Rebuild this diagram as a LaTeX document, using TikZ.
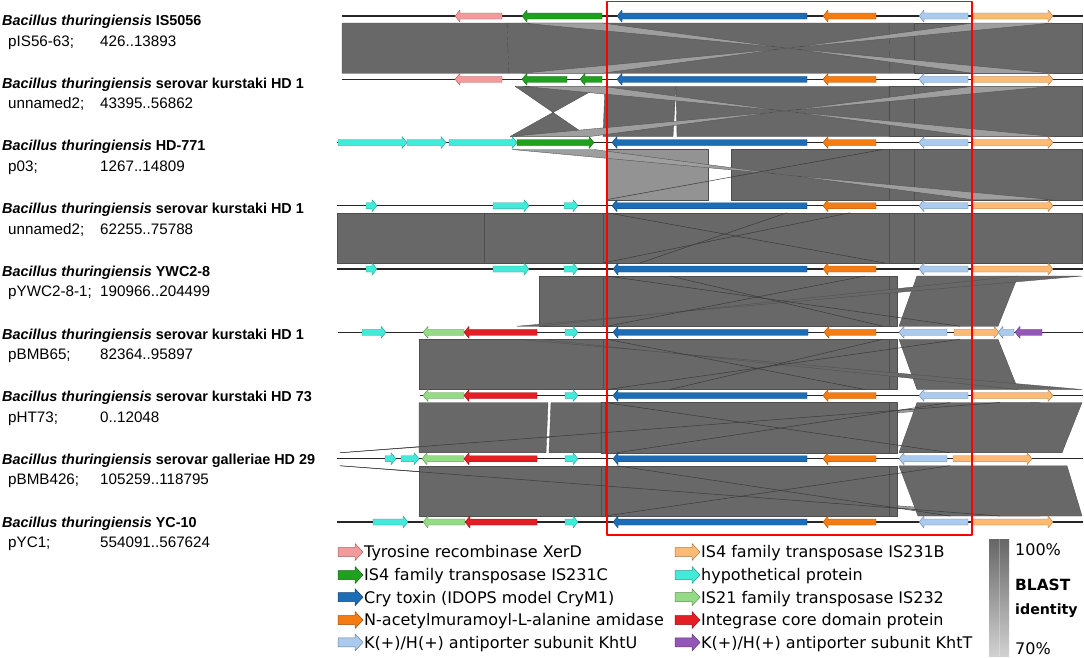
\documentclass[tikz,border=0pt]{standalone}
\usepackage{fontspec}
\setmainfont{DejaVu Sans}
\newfontfamily\labfont{Liberation Sans}
\definecolor{hitdark}{HTML}{686868}
\definecolor{hitlight}{HTML}{9E9E9E}
\definecolor{hitmid}{HTML}{939393}
\definecolor{hitedge}{HTML}{4E4E4E}
\definecolor{hitline}{HTML}{3A3A3A}
\definecolor{cPink}{HTML}{F59A9C}
\definecolor{cGreen}{HTML}{1FA01F}
\definecolor{cBlue}{HTML}{1C6CB6}
\definecolor{cOrange}{HTML}{F57C12}
\definecolor{cLBlue}{HTML}{AACAEE}
\definecolor{cLOrange}{HTML}{FDBA74}
\definecolor{cCyan}{HTML}{42EBD9}
\definecolor{cLGreen}{HTML}{95DB85}
\definecolor{cRed}{HTML}{E31E24}
\definecolor{cPurple}{HTML}{9457B8}
\def\ya{16}\def\yb{79.25}\def\yc{142.5}\def\yd{205.75}\def\ye{269}
\def\yf{332.25}\def\yg{395.5}\def\yh{458.75}\def\yi{522}
\newcommand\hit[5][hitd]{\path[#1] (#2,\bt) -- (#3,\bt) -- (#5,\bb) -- (#4,\bb) -- cycle;}
\newcommand\hl[2]{\draw[hline] (#1,\bt) -- (#2,\bb);}
\newcommand\gR[4]{\filldraw[gene, fill=#4, draw=#4!65!black] (#1,#3-3) -- (#2-5,#3-3) -- (#2-5,#3-6) -- (#2,#3) -- (#2-5,#3+6) -- (#2-5,#3+3) -- (#1,#3+3) -- cycle;}
\newcommand\gL[4]{\filldraw[gene, fill=#4, draw=#4!65!black] (#1,#3) -- (#1+5,#3-6) -- (#1+5,#3-3) -- (#2,#3-3) -- (#2,#3+3) -- (#1+5,#3+3) -- (#1+5,#3+6) -- cycle;}
\newcommand\rightset[1]{\gL{823}{876}{#1}{cOrange}\gL{919}{968}{#1}{cLBlue}\gR{973}{1053}{#1}{cLOrange}}
\newcommand\legar[3]{\filldraw[line width=0.5pt, fill=#3, draw=#3!65!black] (#1,#2-4.5) -- (#1+17,#2-4.5) -- (#1+17,#2-8.5) -- (#1+25,#2) -- (#1+17,#2+8.5) -- (#1+17,#2+4.5) -- (#1,#2+4.5) -- cycle;}
\newcommand\strain[5]{%
 \node[lbl] (t#1) at (2,#2) {\textbf{\textit{Bacillus thuringiensis}} \textbf{#3}};
 \node[sub] (n#1) at (8,#2+20.5) {#4};
 \node[sub] (c#1) at (100,#2+20.5) {#5};}
\begin{document}
\begin{tikzpicture}[x=1pt,y=-1pt,line join=round,
 hitd/.style={fill=hitdark, draw=hitedge, line width=0.35pt},
 hitl/.style={fill=hitlight, draw=hitedge, line width=0.35pt},
 hitm/.style={fill=hitmid, draw=hitedge, line width=0.35pt},
 hline/.style={draw=hitline, line width=0.5pt},
 track/.style={draw=black!85, line width=1.1pt},
 gene/.style={line width=0.4pt},
 lbl/.style={inner sep=0pt, anchor=base west, font=\labfont\fontsize{14.4}{16}\selectfont},
 sub/.style={inner sep=0pt, anchor=base west, font=\labfont\fontsize{15.2}{17}\selectfont},
 legtxt/.style={inner sep=0pt, anchor=base west, font=\fontsize{16}{18}\selectfont}]
\fill[white] (0,0) rectangle (1084,657);
\useasboundingbox (0,0) rectangle (1084,657);
% ---------- band 1-2
\def\bt{23}\def\bb{73.25}
\hit{342}{507}{342}{509}\hit{507}{889}{509}{890}\hit{889}{914}{890}{914}\hit{914}{1082}{914}{1082}
\hit[hitl]{522}{602}{1053}{973}\hit[hitl]{973}{1053}{602}{522}
% ---------- band 2-3
\def\bt{86.25}\def\bb{136.5}
\hit{515}{600}{588}{510}\hit{605}{676}{603}{673}\hit{676}{889}{677}{889}\hit{889}{914}{889}{914}\hit{914}{1082}{914}{1082}
\hit[hitl]{522}{602}{1053}{973}\hit[hitl]{973}{1053}{590}{510}
% ---------- band 3-4
\def\bt{149.5}\def\bb{199.75}
\hit[hitm]{606}{708}{606}{708}\hit{731}{889}{731}{889}\hit{889}{914}{889}{914}\hit{914}{1082}{914}{1082}
\hit[hitl]{512}{594}{1053}{973}
\hl{883}{606}
% ---------- band 4-5
\def\bt{212.75}\def\bb{263}
\hit{337}{484}{337}{484}\hit{484}{603}{484}{603}\hit{603}{607}{603}{607}\hit{607}{889}{607}{889}\hit{889}{914}{889}{914}\hit{914}{1082}{914}{1082}
\hl{607}{885}\hl{850}{603}\hl{787}{640}
% ---------- band 5-6
\def\bt{276}\def\bb{326.25}
\hit{539}{603}{539}{603}\hit{603}{607}{603}{607}\hit{607}{889}{607}{889}\hit{889}{897}{889}{897}\hit{917}{1018}{899}{998}
\hit{1018}{1082}{539}{517}
\hl{607}{960}\hl{865}{607}\hl{670}{883}
% ---------- band 6-7
\def\bt{339.25}\def\bb{389.5}
\hit{419}{603}{419}{603}\hit{603}{607}{603}{607}\hit{607}{889}{607}{889}\hit{889}{897}{889}{897}\hit{899}{998}{917}{1018}
\hit{517}{539}{1082}{1018}
\hl{960}{607}\hl{607}{865}\hl{883}{670}
% ---------- band 7-8
\def\bt{402.5}\def\bb{452.75}
\path[hitl] (340,\bb) -- (1000,\bt) -- (1040,\bt) -- cycle;
\hit{419}{548}{419}{546}\hit{551}{601}{549}{601}\hit{601}{605}{601}{605}\hit{605}{889}{605}{889}\hit{889}{897}{889}{897}\hit{917}{1082}{899}{1062}
\draw[hline] (340,\bb) -- (1000,\bt);
\hl{605}{950}\hl{950}{617}
% ---------- band 8-9
\def\bt{465.75}\def\bb{516}
\path[hitl] (340,\bt) -- (1000,\bb) -- (1040,\bb) -- cycle;
\hit{419}{601}{419}{601}\hit{601}{605}{601}{605}\hit{605}{889}{605}{889}\hit{889}{897}{889}{897}\hit{899}{1067}{918}{1082}
\draw[hline] (340,\bt) -- (1000,\bb);
\hl{950}{605}\hl{617}{950}
% ---------- tracks
\draw[track] (342,\ya) -- (1083,\ya);
\draw[track] (342,\yb) -- (1083,\yb);
\draw[track] (337,\yc) -- (1083,\yc);
\draw[track] (337,\yd) -- (1083,\yd);
\draw[track] (337,\ye) -- (1083,\ye);
\draw[track] (338,\yf) -- (1083,\yf);
\draw[track] (420,\yg) -- (1083,\yg);
\draw[track] (337,\yh) -- (1083,\yh);
\draw[track] (337,\yi) -- (1083,\yi);
% ---------- genes
\gL{455}{502}{\ya}{cPink}\gL{522}{602}{\ya}{cGreen}\gL{617}{807}{\ya}{cBlue}\rightset{\ya}
\gL{455}{502}{\yb}{cPink}\gL{522}{567}{\yb}{cGreen}\gL{580}{602}{\yb}{cGreen}\gL{617}{807}{\yb}{cBlue}\rightset{\yb}
\gR{338}{407}{\yc}{cCyan}\gR{407}{446}{\yc}{cCyan}\gR{449}{517}{\yc}{cCyan}\gR{517}{594}{\yc}{cGreen}\gL{612}{807}{\yc}{cBlue}\rightset{\yc}
\gR{366}{377}{\yd}{cCyan}\gR{493}{529}{\yd}{cCyan}\gR{564}{578}{\yd}{cCyan}\gL{612}{807}{\yd}{cBlue}\rightset{\yd}
\gR{366}{377}{\ye}{cCyan}\gR{493}{529}{\ye}{cCyan}\gR{564}{578}{\ye}{cCyan}\gL{613}{807}{\ye}{cBlue}\rightset{\ye}
\gR{362}{386}{\yf}{cCyan}\gL{423}{464}{\yf}{cLGreen}\gL{464}{537}{\yf}{cRed}\gR{565}{578}{\yf}{cCyan}\gL{613}{808}{\yf}{cBlue}
\gL{824}{876}{\yf}{cOrange}\gL{899}{947}{\yf}{cLBlue}\gR{954}{999}{\yf}{cLOrange}\gL{998}{1014}{\yf}{cLBlue}\gL{1015}{1042}{\yf}{cPurple}
\gL{423}{464}{\yg}{cLGreen}\gL{464}{537}{\yg}{cRed}\gR{565}{578}{\yg}{cCyan}\gL{613}{807}{\yg}{cBlue}\rightset{\yg}
\gR{385}{396}{\yh}{cCyan}\gR{401}{419}{\yh}{cCyan}\gL{422}{464}{\yh}{cLGreen}\gL{464}{537}{\yh}{cRed}\gR{565}{578}{\yh}{cCyan}\gL{613}{807}{\yh}{cBlue}
\gL{823}{876}{\yh}{cOrange}\gL{899}{947}{\yh}{cLBlue}\gR{953}{1032}{\yh}{cLOrange}
\gR{373}{408}{\yi}{cCyan}\gL{423}{465}{\yi}{cLGreen}\gL{465}{537}{\yi}{cRed}\gR{565}{578}{\yi}{cCyan}\gL{613}{807}{\yi}{cBlue}\rightset{\yi}
% ---------- red box
\draw[red, line width=1.4pt] (607,1.7) rectangle (972,535);
% ---------- labels
\strain{1}{25.5}{IS5056}{pIS56-63;}{426..13893}
\strain{2}{88.2}{serovar kurstaki HD 1}{unnamed2;}{43395..56862}
\strain{3}{150.9}{HD-771}{p03;}{1267..14809}
\strain{4}{213.6}{serovar kurstaki HD 1}{unnamed2;}{62255..75788}
\strain{5}{276.3}{YWC2-8}{pYWC2-8-1;}{190966..204499}
\strain{6}{339}{serovar kurstaki HD 1}{pBMB65;}{82364..95897}
\strain{7}{401.7}{serovar kurstaki HD 73}{pHT73;}{0..12048}
\strain{8}{464.4}{serovar galleriae HD 29}{pBMB426;}{105259..118795}
\strain{9}{527.1}{YC-10}{pYC1;}{554091..567624}
% ---------- legend
\legar{338}{552}{cPink}\legar{338}{575}{cGreen}\legar{338}{597.2}{cBlue}\legar{338}{620}{cOrange}\legar{338}{642.4}{cLBlue}
\legar{675}{552}{cLOrange}\legar{675}{575}{cCyan}\legar{675}{597.2}{cLGreen}\legar{675}{620}{cRed}\legar{675}{642.4}{cPurple}
\node[legtxt] (L1) at (364,557.8) {Tyrosine recombinase XerD};
\node[legtxt] (L2) at (364,580.8) {IS4 family transposase IS231C};
\node[legtxt] (L3) at (364,603) {Cry toxin (IDOPS model CryM1)};
\node[legtxt] (L4) at (364,625.8) {N-acetylmuramoyl-L-alanine amidase};
\node[legtxt] (L5) at (364,648.2) {K(+)/H(+) antiporter subunit KhtU};
\node[legtxt] (L6) at (701,557.8) {IS4 family transposase IS231B};
\node[legtxt] (L7) at (701,580.8) {hypothetical protein};
\node[legtxt] (L8) at (701,603) {IS21 family transposase IS232};
\node[legtxt] (L9) at (701,625.8) {Integrase core domain protein};
\node[legtxt] (L10) at (701,648.2) {K(+)/H(+) antiporter subunit KhtT};
% ---------- identity scale
\shade[top color=black!60, bottom color=black!18] (989,539) rectangle (1009,656);
\draw[white, opacity=0.25, line width=0.6pt] (999,539) -- (999,656);
\node[legtxt] (p100) at (1015,555.7) {100\%};
\node[legtxt, font=\fontsize{15.4}{18}\selectfont] (bl) at (1015,590) {\textbf{BLAST}};
\node[legtxt, font=\fontsize{14.2}{18}\selectfont] (id) at (1015,614.5) {\textbf{identity}};
\node[legtxt] (p70) at (1015,654.5) {70\%};
\end{tikzpicture}
\end{document}
